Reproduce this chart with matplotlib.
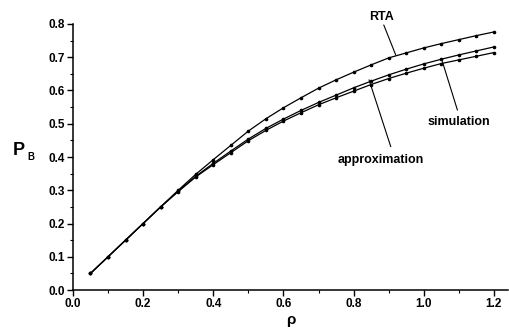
import matplotlib
matplotlib.use('Agg')
import matplotlib.pyplot as plt
from matplotlib.ticker import MultipleLocator

rho = [0.05, 0.10, 0.15, 0.20, 0.25, 0.30, 0.35, 0.40, 0.45, 0.50, 0.55, 0.60,
       0.65, 0.70, 0.75, 0.80, 0.85, 0.90, 0.95, 1.00, 1.05, 1.10, 1.15, 1.20]
rta = [0.05, 0.10, 0.15, 0.20, 0.25, 0.300, 0.348, 0.392, 0.435, 0.478, 0.515, 0.548,
       0.578, 0.607, 0.632, 0.655, 0.677, 0.698, 0.713, 0.728, 0.741, 0.753, 0.765, 0.776]
simulation = [0.05, 0.10, 0.15, 0.20, 0.25, 0.297, 0.342, 0.381, 0.418, 0.454, 0.486, 0.514,
              0.540, 0.564, 0.586, 0.608, 0.628, 0.647, 0.664, 0.680, 0.694, 0.707, 0.719, 0.731]
approximation = [0.05, 0.10, 0.15, 0.20, 0.25, 0.296, 0.340, 0.377, 0.413, 0.449, 0.480, 0.508,
                 0.533, 0.557, 0.578, 0.598, 0.618, 0.636, 0.652, 0.667, 0.681, 0.692, 0.703, 0.714]

plt.rcParams['font.family'] = ['Liberation Sans', 'DejaVu Sans']

fig = plt.figure(figsize=(5.1, 3.33), dpi=100)
ax = fig.add_axes([0.143, 0.129, 0.853, 0.799])

for y in (rta, simulation, approximation):
    ax.plot(rho, y, 'k-', lw=0.9, marker='o', ms=1.6)

ax.set_xlim(0, 1.24)
ax.set_ylim(0, 0.8)
ax.xaxis.set_minor_locator(MultipleLocator(0.1))
ax.yaxis.set_minor_locator(MultipleLocator(0.05))
ax.set_xticks([0.0, 0.2, 0.4, 0.6, 0.8, 1.0, 1.2])
ax.set_xticklabels(['0.0', '0.2', '0.4', '0.6', '0.8', '1.0', '1.2'])
ax.set_yticks([0.0, 0.1, 0.2, 0.3, 0.4, 0.5, 0.6, 0.7, 0.8])
ax.set_yticklabels(['0.0', '0.1', '0.2', '0.3', '0.4', '0.5', '0.6', '0.7', '0.8'])
ax.tick_params(which='major', direction='out', length=4, width=1.0, labelsize=8.5, pad=2)
ax.tick_params(which='minor', direction='out', length=2.5, width=0.8)
for lab in ax.get_xticklabels() + ax.get_yticklabels():
    lab.set_fontweight('bold')
for s in ('top', 'right'):
    ax.spines[s].set_visible(False)
for s in ('left', 'bottom'):
    ax.spines[s].set_linewidth(1.1)

ax.set_xlabel('ρ', fontsize=11, fontweight='bold', labelpad=2)
fig.text(19 / 510, 1 - 150 / 333, 'P', fontsize=13, fontweight='bold', ha='center', va='center')
fig.text(27 / 510, 1 - 157 / 333, 'B', fontsize=7, fontweight='bold', ha='left', va='center')

arrow = dict(arrowstyle='-', color='k', lw=0.8, shrinkA=0, shrinkB=0)
ax.text(0.88, 0.82, 'RTA', fontsize=9, fontweight='bold', ha='center', va='center')
ax.annotate('', xy=(0.92, 0.707), xytext=(0.886, 0.797), arrowprops=arrow)
ax.text(1.1, 0.505, 'simulation', fontsize=9, fontweight='bold', ha='center', va='center')
ax.annotate('', xy=(1.053, 0.687), xytext=(1.096, 0.541), arrowprops=arrow)
ax.text(0.877, 0.391, 'approximation', fontsize=9, fontweight='bold', ha='center', va='center')
ax.annotate('', xy=(0.844, 0.632), xytext=(0.906, 0.431), arrowprops=arrow)

fig.savefig('out.png', dpi=100)
